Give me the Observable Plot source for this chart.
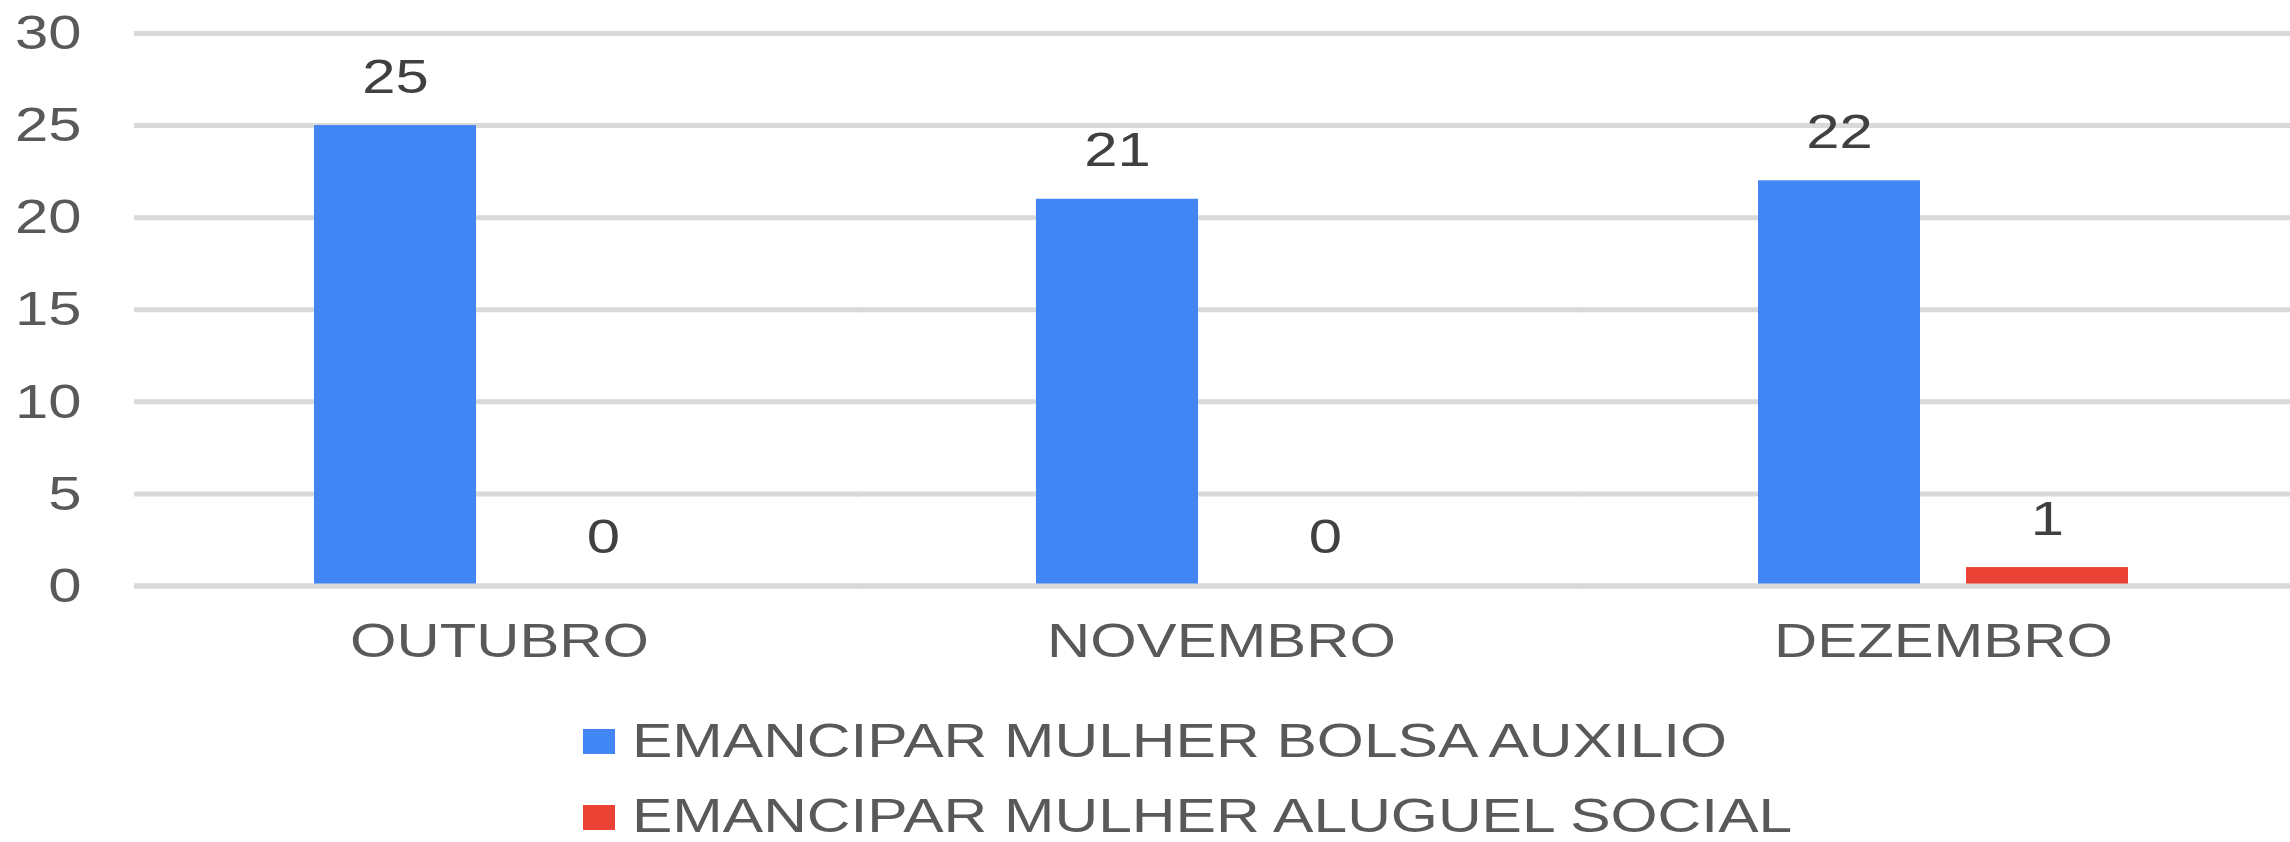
<!DOCTYPE html>
<html>
<head>
<meta charset="utf-8">
<script src="https://cdn.jsdelivr.net/npm/d3@7"></script>
<script src="https://cdn.jsdelivr.net/npm/@observablehq/plot@0.6"></script>
<style>
  html, body { margin: 0; padding: 0; background: #ffffff; }
  #wrap { width: 2290px; height: 842px; position: relative; overflow: hidden; background: #fff; }
  #legend { position: relative; width: 2290px; height: 152px; font-family: "Liberation Sans", Arial, sans-serif; }
  .sw { position: absolute; width: 32px; height: 25px; }
  .lt { position: absolute; font-size: 49px; line-height: 36px; color: #595959; white-space: nowrap; transform: scaleX(1.235); transform-origin: 0 0; }
</style>
</head>
<body>
<div id="wrap"><div id="chart"></div><div id="legend"></div></div>
<script>
const months = ["OUTUBRO", "NOVEMBRO", "DEZEMBRO"];
const seriesNames = ["EMANCIPAR MULHER BOLSA AUXILIO", "EMANCIPAR MULHER ALUGUEL SOCIAL"];
const bolsaAuxilio = [25, 21, 22];
const aluguelSocial = [0, 0, 1];
const yTicks = [0, 5, 10, 15, 20, 25, 30];
const seriesColors = ["#4285F4", "#EA4335"];

const data = months.flatMap((m, i) => [
  {month: m, series: seriesNames[0], value: bolsaAuxilio[i]},
  {month: m, series: seriesNames[1], value: aluguelSocial[i]}
]);

const chart = Plot.plot({
  width: 2290,
  height: 690,
  marginLeft: 138,
  marginRight: -14,
  marginTop: 33,
  marginBottom: 104.5,
  style: {fontFamily: "'Liberation Sans', Arial, sans-serif", fontSize: "49px", background: "#ffffff", color: "#595959"},
  fx: {domain: months, padding: 0, label: null, axis: "bottom", tickSize: 0, tickPadding: 36},
  x: {domain: seriesNames, paddingInner: 0.221, paddingOuter: 0.846, axis: null},
  y: {domain: [0, 30], ticks: yTicks, label: null, tickSize: 0, tickPadding: 57, grid: false},
  color: {domain: seriesNames, range: seriesColors},
  marks: [
    Plot.ruleY(yTicks, {stroke: "#d9d9d9", strokeWidth: 5, insetLeft: -4}),
    Plot.barY(data, {fx: "month", x: "series", y: "value", fill: "series"}),
    Plot.ruleY([0], {stroke: "#d9d9d9", strokeWidth: 5, insetLeft: -4}),
    Plot.text(data, {fx: "month", x: "series", y: "value", text: d => String(d.value), lineAnchor: "bottom", dy: -33, fill: "#404040"})
  ]
});
document.getElementById("chart").appendChild(chart);

// horizontally widen all texts like the reference
chart.querySelectorAll("text").forEach(t => {
  const w = t.getComputedTextLength();
  if (w > 0) {
    t.setAttribute("textLength", (w * 1.22).toFixed(1));
    t.setAttribute("lengthAdjust", "spacingAndGlyphs");
  }
});

// legend below the chart
const legend = document.getElementById("legend");
seriesNames.forEach((name, i) => {
  const sw = document.createElement("div");
  sw.className = "sw";
  sw.style.left = "583px";
  sw.style.top = (39 + i * 76) + "px";
  sw.style.background = seriesColors[i];
  legend.appendChild(sw);
  const lt = document.createElement("div");
  lt.className = "lt";
  lt.style.left = "632px";
  lt.style.top = (32 + i * 75) + "px";
  lt.textContent = name;
  legend.appendChild(lt);
});
</script>
</body>
</html>
